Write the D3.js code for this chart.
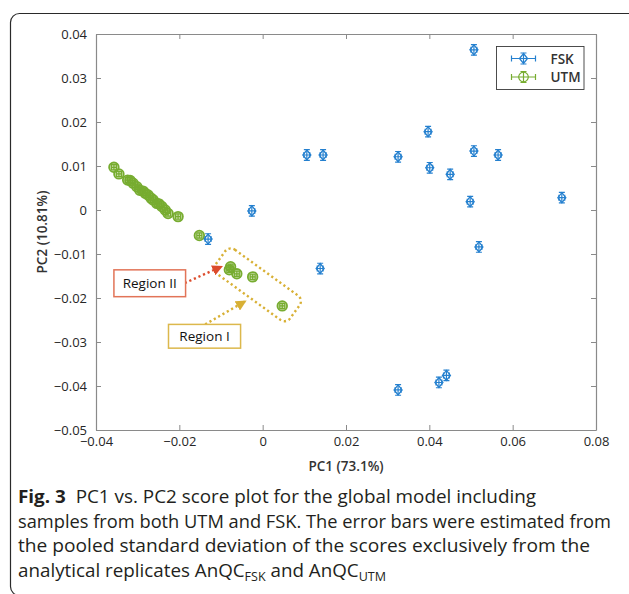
<!DOCTYPE html>
<html>
<head>
<meta charset="utf-8">
<script src="https://cdn.jsdelivr.net/npm/d3@7"></script>
<style>
  body { margin: 0; background: #fff; }
  svg { display: block; }
</style>
</head>
<body>
<div id="wrapper"></div>
<script>
// scores
const fskPC1 = [0.0507, 0.0106, 0.0145, 0.0325, 0.0397, 0.0401, 0.0450, 0.0507, 0.0565, 0.0498, 0.0718, 0.0519, -0.0026, -0.0131, 0.0138, 0.0325, 0.0423, 0.0441]
const fskPC2 = [0.0364, 0.0125, 0.0125, 0.0121, 0.0178, 0.0096, 0.0081, 0.0134, 0.0125, 0.0019, 0.0028, -0.0084, -0.0002, -0.0066, -0.0133, -0.0409, -0.0392, -0.0376]
const utmPC1 = [-0.0357, -0.0345, -0.0324, -0.0318, -0.0311, -0.0302, -0.0295, -0.0287, -0.0282, -0.0275, -0.0268, -0.0263, -0.0254, -0.0249, -0.0242, -0.0234, -0.0227, -0.0203, -0.0152, -0.0077, -0.0080, -0.0062, -0.0024, 0.0047]
const utmPC2 = [0.0097, 0.0082, 0.0068, 0.0067, 0.0061, 0.0053, 0.0045, 0.0043, 0.0038, 0.0034, 0.0027, 0.0023, 0.0015, 0.0014, 0.0008, 0.0000, -0.0008, -0.0015, -0.0058, -0.0129, -0.0136, -0.0145, -0.0152, -0.0218]
// pooled SD of the analytical replicates (x, y)
const fskErr = [0.0007, 0.0012]
const utmErr = [0.0006, 0.0006]

const xTicks = [-0.04, -0.02, 0, 0.02, 0.04, 0.06, 0.08]
const yTicks = [-0.05, -0.04, -0.03, -0.02, -0.01, 0, 0.01, 0.02, 0.03, 0.04]
const seriesNames = ['FSK', 'UTM']

const captionLines = [
    [['Fig. 3', 'bold'], ['  PC1 vs. PC2 score plot for the global model including', 'normal']],
    [['samples from both UTM and FSK. The error bars were estimated from', 'normal']],
    [['the pooled standard deviation of the scores exclusively from the', 'normal']],
    [['analytical replicates AnQC', 'normal'], ['FSK', 'sub'], [' and AnQC', 'normal'], ['UTM', 'sub']]
]

const blue = '#2580cf'
const green = '#77ac30'
const red = '#dc4b2c'
const gold = '#d8b035'

let dimensions = {
    width: 629,
    height: 594,
    margin: { top: 34, right: 33, bottom: 164, left: 96 }
}
dimensions.boundedWidth = dimensions.width - dimensions.margin.left - dimensions.margin.right
dimensions.boundedHeight = dimensions.height - dimensions.margin.top - dimensions.margin.bottom

const svg = d3.select('#wrapper').append('svg')
    .attr('width', dimensions.width)
    .attr('height', dimensions.height)

// figure frame
svg.append('rect')
    .attr('x', 10.5).attr('y', 13.5)
    .attr('width', 700).attr('height', 582)
    .attr('rx', 9)
    .attr('fill', 'none')
    .attr('stroke', '#2a2a2a')
    .attr('stroke-width', 1.2)

const bounds = svg.append('g')
    .attr('transform', `translate(${dimensions.margin.left},${dimensions.margin.top})`)

const xScale = d3.scaleLinear().domain([-0.04, 0.08]).range([0, dimensions.boundedWidth])
const yScale = d3.scaleLinear().domain([-0.05, 0.04]).range([dimensions.boundedHeight, 0])

const tickFont = g => g.selectAll('text')
    .attr('font-family', '"Open Sans", sans-serif')
    .attr('font-size', 13)
    .attr('fill', '#262626')
const axisStyle = g => {
    g.select('.domain').attr('stroke', '#8a8a8a').attr('stroke-width', 1.2)
    g.selectAll('.tick line').attr('stroke', '#8a8a8a').attr('stroke-width', 1)
}

bounds.append('g')
    .attr('transform', `translate(0,${dimensions.boundedHeight})`)
    .call(d3.axisBottom(xScale).tickValues(xTicks).tickSize(-5).tickSizeOuter(0).tickPadding(7).tickFormat(d3.format('')))
    .call(axisStyle).call(tickFont)

bounds.append('g')
    .call(d3.axisTop(xScale).tickValues(xTicks).tickSize(-5).tickSizeOuter(0).tickFormat(''))
    .call(axisStyle)

bounds.append('g')
    .call(d3.axisLeft(yScale).tickValues(yTicks).tickSize(-5).tickSizeOuter(0).tickPadding(9).tickFormat(d3.format('')))
    .call(axisStyle).call(tickFont)

bounds.append('g')
    .attr('transform', `translate(${dimensions.boundedWidth},0)`)
    .call(d3.axisRight(yScale).tickValues(yTicks).tickSize(-5).tickSizeOuter(0).tickFormat(''))
    .call(axisStyle)

// axis labels
svg.append('text')
    .attr('x', dimensions.margin.left + xScale(0.02))
    .attr('y', 471)
    .attr('text-anchor', 'middle')
    .attr('font-family', '"Open Sans", sans-serif')
    .attr('font-size', 13.5)
    .attr('font-weight', 600)
    .attr('fill', '#333')
    .text('PC1 (73.1%)')

svg.append('text')
    .attr('transform', `translate(47,${dimensions.margin.top + dimensions.boundedHeight / 2}) rotate(-90)`)
    .attr('text-anchor', 'middle')
    .attr('font-family', '"Open Sans", sans-serif')
    .attr('font-size', 13.5)
    .attr('font-weight', 600)
    .attr('fill', '#333')
    .text('PC2 (10.81%)')

// error bar glyph with marker
function glyph(g, kind, color, ex, ey) {
    const cap = 3
    const path = d3.path()
    path.moveTo(-ex, 0); path.lineTo(ex, 0)
    path.moveTo(-ex, -cap); path.lineTo(-ex, cap)
    path.moveTo(ex, -cap); path.lineTo(ex, cap)
    path.moveTo(0, -ey); path.lineTo(0, ey)
    path.moveTo(-cap, -ey); path.lineTo(cap, -ey)
    path.moveTo(-cap, ey); path.lineTo(cap, ey)
    g.append('path').attr('d', path.toString())
        .attr('fill', 'none').attr('stroke', color).attr('stroke-width', 1.2)
    if (kind === 'diamond') {
        g.append('path').attr('d', 'M0,-5L4,0L0,5L-4,0Z')
            .attr('fill', 'none').attr('stroke', color).attr('stroke-width', 1.3)
    } else {
        g.append('circle').attr('r', 4.8)
            .attr('fill', color).attr('fill-opacity', 0.4)
            .attr('stroke', color).attr('stroke-width', 1.8)
    }
}

const plot = bounds.append('g')

const utmEx = xScale(utmErr[0]) - xScale(0)
const utmEy = yScale(0) - yScale(utmErr[1])
plot.selectAll('g.utm')
    .data(d3.range(utmPC1.length))
    .enter().append('g')
    .attr('class', 'utm')
    .attr('transform', i => `translate(${xScale(utmPC1[i])},${yScale(utmPC2[i])})`)
    .each(function () { glyph(d3.select(this), 'circle', green, utmEx, utmEy) })

const fskEx = xScale(fskErr[0]) - xScale(0)
const fskEy = yScale(0) - yScale(fskErr[1])
plot.selectAll('g.fsk')
    .data(d3.range(fskPC1.length))
    .enter().append('g')
    .attr('class', 'fsk')
    .attr('transform', i => `translate(${xScale(fskPC1[i])},${yScale(fskPC2[i])})`)
    .each(function () { glyph(d3.select(this), 'diamond', blue, fskEx, fskEy) })

// legend
const legend = svg.append('g').attr('transform', 'translate(496.5,46.5)')
legend.append('rect')
    .attr('width', 87.5).attr('height', 43)
    .attr('fill', '#fff').attr('stroke', '#3a3a3a').attr('stroke-width', 0.9)
seriesNames.forEach((name, i) => {
    const row = legend.append('g').attr('transform', `translate(27,${12 + i * 18.5})`)
    const color = i === 0 ? blue : green
    glyph(row, i === 0 ? 'diamond' : 'circle', color, 12, 5.5)
    row.select('circle').attr('fill', 'none').attr('stroke-width', 1.2)
    row.append('text')
        .attr('x', 27).attr('y', 5)
        .attr('font-family', '"Open Sans", sans-serif')
        .attr('font-size', 13.5).attr('font-weight', 600)
        .attr('fill', '#333')
        .text(name)
})

// annotations (Region I / Region II)
const ann = svg.append('g').attr('transform', `translate(${dimensions.margin.left},${dimensions.margin.top})`)
const defs = svg.append('defs')
;[['arrRed', red], ['arrGold', gold]].forEach(([id, c]) => {
    defs.append('marker')
        .attr('id', id).attr('viewBox', '0 0 10 10')
        .attr('refX', 8).attr('refY', 5)
        .attr('markerWidth', 4.5).attr('markerHeight', 4.5)
        .attr('markerUnits', 'strokeWidth')
        .attr('orient', 'auto')
        .append('path').attr('d', 'M0,0L10,5L0,10Z').attr('fill', c)
})

const regionCenter = [-0.0012, -0.0170]
ann.append('rect')
    .attr('x', -46).attr('y', -15)
    .attr('width', 92).attr('height', 30)
    .attr('rx', 7)
    .attr('transform', `translate(${xScale(regionCenter[0])},${yScale(regionCenter[1])}) rotate(36)`)
    .attr('fill', 'none')
    .attr('stroke', gold)
    .attr('stroke-width', 2.4)
    .attr('stroke-dasharray', '2.2 2.8')

const arrows = [
    { from: [-0.0187, -0.0166], to: [-0.0100, -0.0129], color: red, id: 'arrRed' },
    { from: [-0.0138, -0.0260], to: [-0.0043, -0.0208], color: gold, id: 'arrGold' }
]
arrows.forEach(a => {
    ann.append('line')
        .attr('x1', xScale(a.from[0])).attr('y1', yScale(a.from[1]))
        .attr('x2', xScale(a.to[0])).attr('y2', yScale(a.to[1]))
        .attr('stroke', a.color).attr('stroke-width', 2.4)
        .attr('stroke-dasharray', '2.2 2.8')
        .attr('marker-end', `url(#${a.id})`)
})

const boxes = [
    { label: 'Region II', x0: -0.0357, x1: -0.0185, y0: -0.0136, y1: -0.0197, color: '#e27458' },
    { label: 'Region I', x0: -0.0226, x1: -0.0053, y0: -0.0260, y1: -0.0314, color: '#dcb84c' }
]
boxes.forEach(b => {
    const x0 = xScale(b.x0), x1 = xScale(b.x1), y0 = yScale(b.y0), y1 = yScale(b.y1)
    ann.append('rect')
        .attr('x', x0).attr('y', y0)
        .attr('width', x1 - x0).attr('height', y1 - y0)
        .attr('fill', '#fff').attr('stroke', b.color).attr('stroke-width', 1.5)
    ann.append('text')
        .attr('x', (x0 + x1) / 2).attr('y', (y0 + y1) / 2 + 5)
        .attr('text-anchor', 'middle')
        .attr('font-family', '"Open Sans", sans-serif')
        .attr('font-size', 13.5)
        .attr('fill', '#111')
        .text(b.label)
})

// caption
const lineWidths = [518, 593, 572, 368]
captionLines.forEach((parts, i) => {
    const t = svg.append('text')
        .attr('x', 18).attr('y', 503 + i * 24.7)
        .attr('font-family', '"Open Sans", sans-serif')
        .attr('font-size', 18)
        .attr('fill', '#231f20')
        .attr('textLength', lineWidths[i])
        .attr('lengthAdjust', 'spacingAndGlyphs')
        .attr('xml:space', 'preserve')
    let sub = false
    parts.forEach(([s, style]) => {
        const ts = t.append('tspan').text(s)
        if (style === 'bold') ts.attr('font-weight', 700)
        if (style === 'sub') { ts.attr('font-size', 12).attr('dy', sub ? 0 : 4); sub = true }
        else if (sub) { ts.attr('dy', -4); sub = false }
    })
})
</script>
</body>
</html>
